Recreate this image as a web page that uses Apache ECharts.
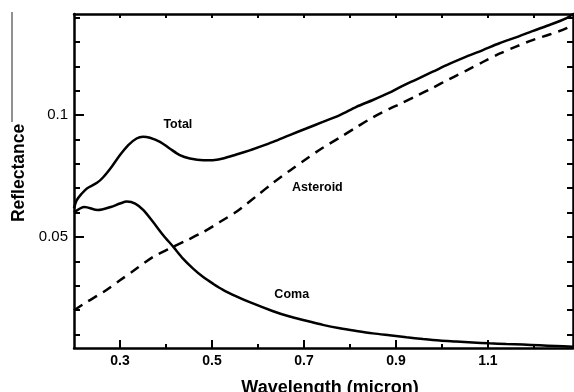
<!DOCTYPE html>
<html>
<head>
<meta charset="utf-8">
<script src="https://cdn.jsdelivr.net/npm/echarts@6/dist/echarts.min.js"></script>
<style>html,body{margin:0;padding:0;background:#fff}#c{width:574px;height:392px}</style>
</head>
<body>
<div id="c"></div>
<script>
// Wavelength (micron) / reflectance data
var totalX = [0.200,0.206,0.217,0.228,0.250,0.264,0.282,0.300,0.318,0.336,0.350,0.365,0.387,0.408,0.430,0.452,0.481,0.502,0.524,0.553,0.582,0.597,0.633,0.669,0.705,0.741,0.778,0.814,0.850,0.886,0.908,0.944,0.980,1.016,1.053,1.089,1.125,1.161,1.197,1.234,1.270,1.285];
var totalY = [0.0617,0.0651,0.0678,0.0699,0.0722,0.0746,0.0788,0.0836,0.0877,0.0904,0.0911,0.0907,0.0890,0.0863,0.0836,0.0822,0.0815,0.0815,0.0822,0.0838,0.0855,0.0865,0.0890,0.0918,0.0945,0.0972,0.1000,0.1034,0.1062,0.1092,0.1114,0.1146,0.1178,0.1210,0.1240,0.1267,0.1295,0.1319,0.1345,0.1370,0.1397,0.1415];

var asteroidX = [0.200,0.228,0.264,0.300,0.336,0.372,0.408,0.445,0.481,0.517,0.553,0.575,0.597,0.633,0.669,0.705,0.741,0.778,0.814,0.850,0.886,0.908,0.944,0.980,1.016,1.053,1.089,1.125,1.161,1.197,1.234,1.270,1.285];
var asteroidY = [0.0199,0.0233,0.0274,0.0322,0.0370,0.0418,0.0452,0.0486,0.0520,0.0561,0.0603,0.0635,0.0668,0.0722,0.0772,0.0820,0.0866,0.0908,0.0950,0.0991,0.1026,0.1045,0.1078,0.1112,0.1148,0.1183,0.1218,0.1252,0.1281,0.1308,0.1331,0.1356,0.1377];

var comaX = [0.200,0.223,0.252,0.280,0.300,0.315,0.333,0.351,0.372,0.394,0.416,0.437,0.459,0.481,0.503,0.524,0.553,0.582,0.633,0.669,0.705,0.741,0.778,0.814,0.850,0.886,0.923,0.959,0.995,1.031,1.067,1.103,1.140,1.176,1.212,1.248,1.285];
var comaY = [0.0600,0.0623,0.0610,0.0623,0.0637,0.0645,0.0637,0.0610,0.0561,0.0507,0.0459,0.0411,0.0370,0.0335,0.0307,0.0283,0.0256,0.0232,0.0195,0.0173,0.0156,0.0139,0.0125,0.0114,0.0104,0.0096,0.0088,0.0081,0.0075,0.0071,0.0067,0.0063,0.0060,0.0058,0.0055,0.0052,0.0049];

var xLabelTicks = [0.3,0.5,0.7,0.9,1.1];
var xMinorTicks = [0.4,0.6,0.8,1.0,1.2];
var xTopTicks = [0.3,0.4,0.5,0.6,0.7,0.8,0.9,1.0,1.1,1.2];
var yLabelTicks = [0.05,0.1];
var yMinorTicks = [0.01,0.02,0.03,0.04,0.06,0.07,0.08,0.09,0.11,0.12,0.13,0.14];
var yAllTicks = [0.01,0.02,0.03,0.04,0.05,0.06,0.07,0.08,0.09,0.1,0.11,0.12,0.13,0.14];

var annoText = ['Total','Asteroid','Coma'];
var annoX = [0.4258,0.7292,0.6734];
var annoY = [0.0960,0.0701,0.0263];

function zip(a,b){return a.map(function(v,i){return [v,b[i]];});}

var X_MIN = 0.2, X_MAX = 1.285, Y_MIN = 0.0044, Y_MAX = 0.1415;
var FONT = '"Liberation Sans", Arial, sans-serif';
var AXLINE = {show:true, lineStyle:{color:'#000', width:2.5}};

function xAx(pos, ticks, len, labels, line){
  return {type:'value', position:pos, min:X_MIN, max:X_MAX, interval:0.1,
    axisLine: line ? AXLINE : {show:false},
    splitLine:{show:false},
    axisTick:{show:true, inside:true, length:len, customValues:ticks, lineStyle:{color:'#000', width:2}},
    axisLabel: labels ? {show:true, customValues:labels, margin:6, color:'#000', fontFamily:FONT, fontWeight:'bold', fontSize:14,
      formatter:function(v){return String(Math.round(v*10)/10);}} : {show:false}};
}
function yAx(pos, ticks, len, labels, line){
  return {type:'value', position:pos, min:Y_MIN, max:Y_MAX, interval:0.01,
    axisLine: line ? AXLINE : {show:false},
    splitLine:{show:false},
    axisTick:{show:true, inside:true, length:len, customValues:ticks, lineStyle:{color:'#000', width:2}},
    axisLabel: labels ? {show:true, customValues:labels, margin:6, color:'#000', fontFamily:FONT, fontSize:15,
      formatter:function(v){return String(Math.round(v*100)/100);}} : {show:false}};
}

var chart = echarts.init(document.getElementById('c'), null, {renderer:'canvas'});
chart.setOption({
  animation:false,
  backgroundColor:'#fff',
  grid:{left:74, right:1, top:14, bottom:44, containLabel:false},
  xAxis:[
    xAx('bottom', xLabelTicks, 8, xLabelTicks, true),
    xAx('bottom', xMinorTicks, 4, null, false),
    xAx('top', xTopTicks, 4, null, true)
  ],
  yAxis:[
    yAx('left', yLabelTicks, 10, yLabelTicks, true),
    yAx('left', yMinorTicks, 6, null, false),
    yAx('right', yAllTicks, 6, null, true)
  ],
  graphic:[
    {type:'line', shape:{x1:12, y1:12, x2:12, y2:122}, style:{stroke:'#222', lineWidth:1}},
    {type:'text', x:19, y:173, rotation:Math.PI/2,
      style:{text:'Reflectance', fontFamily:FONT, fontWeight:'bold', fontSize:17.5, fill:'#000', align:'center', verticalAlign:'middle'}},
    {type:'text', x:330, y:388,
      style:{text:'Wavelength (micron)', fontFamily:FONT, fontWeight:'bold', fontSize:18, fill:'#000', align:'center', verticalAlign:'middle'}}
  ],
  series:[
    {type:'line', name:'Total', data:zip(totalX,totalY), showSymbol:false, smooth:0.3,
      lineStyle:{color:'#000', width:2.5}},
    {type:'line', name:'Asteroid', data:zip(asteroidX,asteroidY), showSymbol:false, smooth:0.3,
      lineStyle:{color:'#000', width:2.5, type:[10,7]}},
    {type:'line', name:'Coma', data:zip(comaX,comaY), showSymbol:false, smooth:0.3,
      lineStyle:{color:'#000', width:2.5}},
    {type:'scatter', name:'labels', data:annoText.map(function(t,i){return {value:[annoX[i],annoY[i]], name:t};}),
      symbol:'circle', symbolSize:2, itemStyle:{color:'rgba(255,255,255,0)'}, z:10,
      label:{show:true, position:'inside', formatter:function(p){return p.name;}, color:'#000',
        textBorderWidth:0, textBorderColor:'transparent', opacity:1,
        fontFamily:FONT, fontWeight:'bold', fontSize:12.5}}
  ]
});
</script>
</body>
</html>
